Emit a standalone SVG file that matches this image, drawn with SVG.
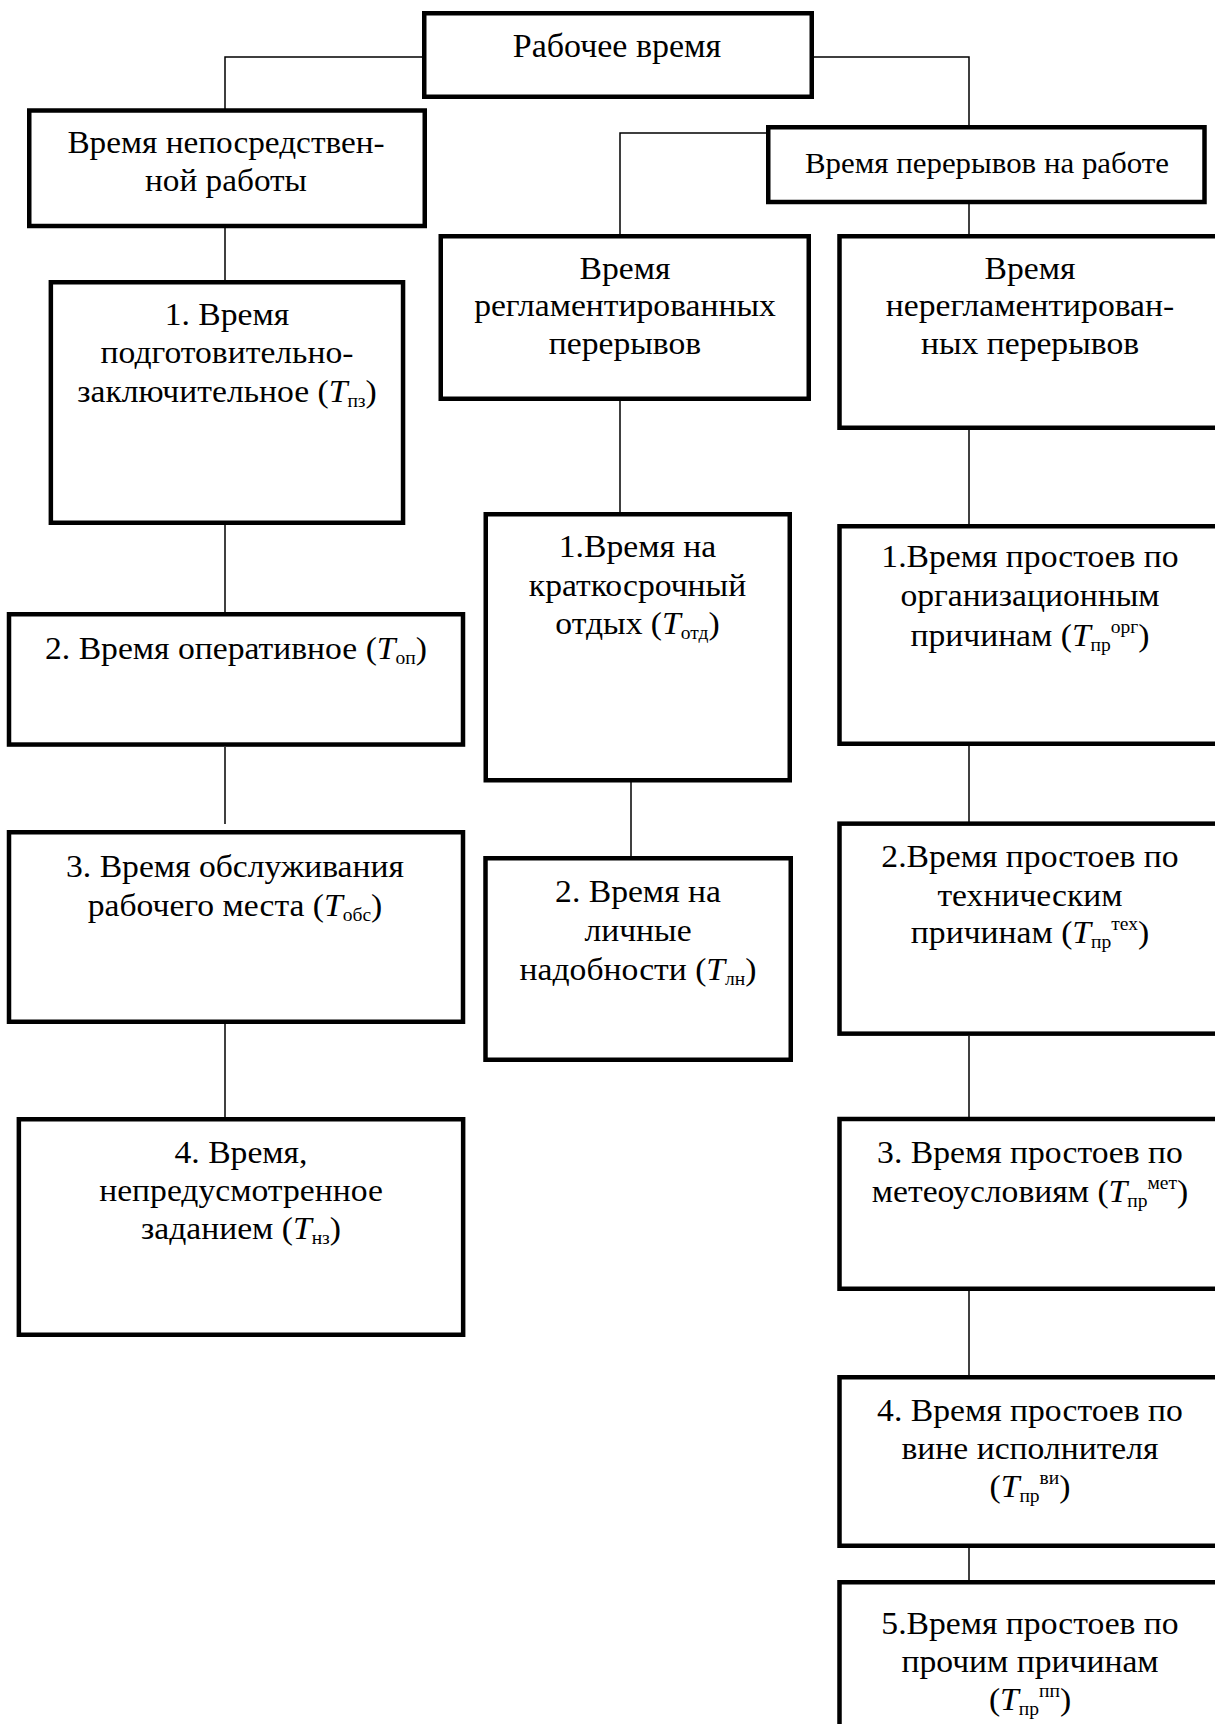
<svg xmlns="http://www.w3.org/2000/svg" width="1215" height="1724" viewBox="0 0 1215 1724">
<style>
.box{fill:#fff;stroke:#000;stroke-width:4.5}
.conn{fill:none;stroke:#000;stroke-width:1.5}
.t{font-family:"Liberation Serif","Times New Roman",serif;font-size:31px;text-anchor:middle;fill:#000}
.h1{font-size:34px}
.h2{font-size:32px}
.h3{font-size:30px}
.i{font-style:italic}
.s{font-size:18px}
</style>
<rect x="0" y="0" width="1215" height="1724" fill="#fff"/>
<g id="connectors">
<polyline class="conn" points="422,57 225,57 225,109"/>
<polyline class="conn" points="814,57 969,57 969,126"/>
<polyline class="conn" points="766,133 620,133 620,235"/>
<line class="conn" x1="969" y1="204" x2="969" y2="235"/>
<line class="conn" x1="225" y1="228" x2="225" y2="281"/>
<line class="conn" x1="225" y1="525" x2="225" y2="613"/>
<line class="conn" x1="225" y1="747" x2="225" y2="824"/>
<line class="conn" x1="225" y1="1024" x2="225" y2="1118"/>
<line class="conn" x1="620" y1="401" x2="620" y2="513"/>
<line class="conn" x1="631" y1="782" x2="631" y2="857"/>
<line class="conn" x1="969" y1="430" x2="969" y2="525"/>
<line class="conn" x1="969" y1="746" x2="969" y2="828"/>
<line class="conn" x1="969" y1="1036" x2="969" y2="1118"/>
<line class="conn" x1="969" y1="1291" x2="969" y2="1376"/>
<line class="conn" x1="969" y1="1548" x2="969" y2="1581"/>
</g>
<g id="n-root">
<rect class="box" x="424.25" y="13.25" width="387.5" height="83.5"/>
<text class="t h1" transform="translate(617 0)"><tspan x="0" y="57">Рабочее время</tspan></text>
</g>
<g id="n-direct">
<rect class="box" x="29.25" y="110.5" width="395.5" height="115.5"/>
<text class="t h2" transform="translate(226 0) scale(1.04 1)"><tspan x="0" y="153">Время непосредствен-</tspan><tspan x="0" y="191">ной работы</tspan></text>
</g>
<g id="n-breaks">
<rect class="box" x="768.25" y="127.25" width="436.25" height="74.75"/>
<text class="t h3" transform="translate(987 0) scale(1.03 1)"><tspan x="0" y="173">Время перерывов на работе</tspan></text>
</g>
<g id="n-reg">
<rect class="box" x="440.75" y="236.25" width="368" height="162.5"/>
<text class="t" transform="translate(625 0) scale(1.085 1)"><tspan x="0" y="279">Время</tspan><tspan x="0" y="316.5">регламентированных</tspan><tspan x="0" y="354">перерывов</tspan></text>
</g>
<g id="n-nereg">
<rect class="box" x="839.5" y="236.25" width="400" height="191.5"/>
<text class="t" transform="translate(1030 0) scale(1.085 1)"><tspan x="0" y="279">Время</tspan><tspan x="0" y="316.5">нерегламентирован-</tspan><tspan x="0" y="354">ных перерывов</tspan></text>
</g>
<g id="n-pz">
<rect class="box" x="50.85" y="282.25" width="352.2" height="240.5"/>
<text class="t" transform="translate(227 0) scale(1.085 1)"><tspan x="0" y="325">1. Время</tspan><tspan x="0" y="363.5">подготовительно-</tspan><tspan x="0" y="402">заключительное (<tspan class="i">T</tspan><tspan class="s" dy="5">пз</tspan><tspan dy="-5">)</tspan></tspan></text>
</g>
<g id="n-op">
<rect class="box" x="9" y="614.25" width="454" height="130.3"/>
<text class="t" transform="translate(236 0) scale(1.085 1)"><tspan x="0" y="659">2. Время оперативное (<tspan class="i">T</tspan><tspan class="s" dy="5">оп</tspan><tspan dy="-5">)</tspan></tspan></text>
</g>
<g id="n-obs">
<rect class="box" x="9" y="832.25" width="454" height="189.5"/>
<text class="t" transform="translate(235 0) scale(1.085 1)"><tspan x="0" y="877">3. Время обслуживания</tspan><tspan x="0" y="916">рабочего места (<tspan class="i">T</tspan><tspan class="s" dy="5">обс</tspan><tspan dy="-5">)</tspan></tspan></text>
</g>
<g id="n-nz">
<rect class="box" x="18.85" y="1119.25" width="444.3" height="215.5"/>
<text class="t" transform="translate(241 0) scale(1.085 1)"><tspan x="0" y="1163">4. Время,</tspan><tspan x="0" y="1201">непредусмотренное</tspan><tspan x="0" y="1239">заданием (<tspan class="i">T</tspan><tspan class="s" dy="5">нз</tspan><tspan dy="-5">)</tspan></tspan></text>
</g>
<g id="n-otd">
<rect class="box" x="485.75" y="514.25" width="304" height="266"/>
<text class="t" transform="translate(637.5 0) scale(1.085 1)"><tspan x="0" y="557">1.Время на</tspan><tspan x="0" y="596">краткосрочный</tspan><tspan x="0" y="634">отдых (<tspan class="i">T</tspan><tspan class="s" dy="5">отд</tspan><tspan dy="-5">)</tspan></tspan></text>
</g>
<g id="n-ln">
<rect class="box" x="485.5" y="858.25" width="305.25" height="201.5"/>
<text class="t" transform="translate(638 0) scale(1.085 1)"><tspan x="0" y="902">2. Время на</tspan><tspan x="0" y="941">личные</tspan><tspan x="0" y="980">надобности (<tspan class="i">T</tspan><tspan class="s" dy="5">лн</tspan><tspan dy="-5">)</tspan></tspan></text>
</g>
<g id="n-org">
<rect class="box" x="839.5" y="526.25" width="400" height="217.5"/>
<text class="t" transform="translate(1030 0) scale(1.085 1)"><tspan x="0" y="567.5">1.Время простоев по</tspan><tspan x="0" y="606.5">организационным</tspan><tspan x="0" y="646">причинам (<tspan class="i">T</tspan><tspan class="s" dy="5">пр</tspan><tspan class="s" dy="-17.5">орг</tspan><tspan dy="12.5">)</tspan></tspan></text>
</g>
<g id="n-tex">
<rect class="box" x="839.5" y="823.65" width="400" height="210"/>
<text class="t" transform="translate(1030 0) scale(1.085 1)"><tspan x="0" y="867">2.Время простоев по</tspan><tspan x="0" y="906">техническим</tspan><tspan x="0" y="943">причинам (<tspan class="i">T</tspan><tspan class="s" dy="5">пр</tspan><tspan class="s" dy="-17.5">тех</tspan><tspan dy="12.5">)</tspan></tspan></text>
</g>
<g id="n-met">
<rect class="box" x="839.5" y="1119" width="400" height="169.75"/>
<text class="t" transform="translate(1030 0) scale(1.085 1)"><tspan x="0" y="1163">3. Время простоев по</tspan><tspan x="0" y="1202">метеоусловиям (<tspan class="i">T</tspan><tspan class="s" dy="5">пр</tspan><tspan class="s" dy="-17.5">мет</tspan><tspan dy="12.5">)</tspan></tspan></text>
</g>
<g id="n-vi">
<rect class="box" x="839.5" y="1377.25" width="400" height="168.5"/>
<text class="t" transform="translate(1030 0) scale(1.085 1)"><tspan x="0" y="1421">4. Время простоев по</tspan><tspan x="0" y="1459">вине исполнителя</tspan><tspan x="0" y="1497">(<tspan class="i">T</tspan><tspan class="s" dy="5">пр</tspan><tspan class="s" dy="-17.5">ви</tspan><tspan dy="12.5">)</tspan></tspan></text>
</g>
<g id="n-pp">
<rect class="box" x="839.5" y="1582.25" width="400" height="200"/>
<text class="t" transform="translate(1030 0) scale(1.085 1)"><tspan x="0" y="1634">5.Время простоев по</tspan><tspan x="0" y="1672">прочим причинам</tspan><tspan x="0" y="1710">(<tspan class="i">T</tspan><tspan class="s" dy="5">пр</tspan><tspan class="s" dy="-17.5">пп</tspan><tspan dy="12.5">)</tspan></tspan></text>
</g>
</svg>
